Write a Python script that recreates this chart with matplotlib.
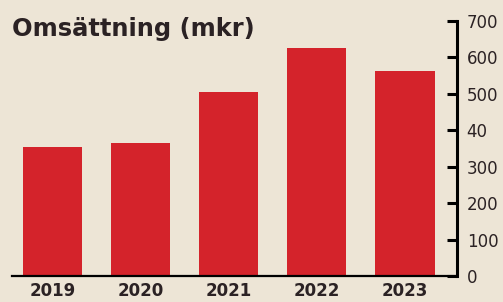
import matplotlib
matplotlib.use("Agg")
import matplotlib.pyplot as plt

years = ["2019", "2020", "2021", "2022", "2023"]
revenue = [355, 365, 505, 625, 562]
ytick_values = [0, 100, 200, 300, 400, 500, 600, 700]
ytick_labels = ["0", "100", "200", "300", "40", "500", "600", "700"]

bg = "#ede5d6"
bar_color = "#d4232b"
text_color = "#2b2224"

W, H = 503, 302
fig = plt.figure(figsize=(W / 100, H / 100), dpi=100, facecolor=bg)
ax = fig.add_axes([12 / W, 26 / H, 445 / W, 255 / H], facecolor=bg)

x = list(range(len(years)))
ax.bar(x, revenue, width=0.67, color=bar_color, zorder=2)

ax.set_xlim(-0.46, 4.59)
ax.set_ylim(0, 700)

for s in ["top", "left"]:
    ax.spines[s].set_visible(False)
ax.spines["right"].set_linewidth(2.2)
ax.spines["right"].set_color("black")
ax.spines["bottom"].set_linewidth(1.6)
ax.spines["bottom"].set_color("black")
ax.spines["bottom"].set_zorder(3)

ax.yaxis.tick_right()
ax.set_yticks(ytick_values)
ax.set_yticklabels(ytick_labels, fontfamily="DejaVu Sans", fontsize=12, color=text_color)
ax.tick_params(axis="y", direction="in", length=7.5, width=2.2, pad=7, colors="black",
               labelcolor=text_color)

ax.set_xticks(x)
ax.set_xticklabels(years, fontfamily="DejaVu Sans", fontweight="bold", fontsize=12, color=text_color)
ax.tick_params(axis="x", length=0, pad=4)

fig.text(12 / W, 1 - 29 / H, "Omsättning (mkr)", fontfamily="DejaVu Sans", fontweight="bold",
         fontsize=17.4, color=text_color, ha="left", va="center")

fig.savefig("out.png", dpi=100, facecolor=bg)
